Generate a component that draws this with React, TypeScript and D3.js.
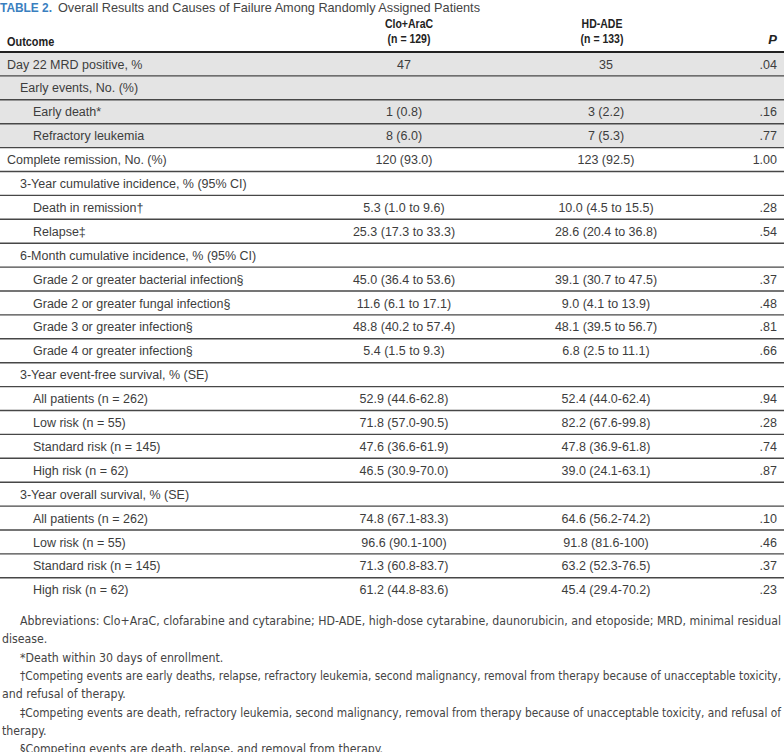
import * as d3 from "d3";
import React, { useEffect, useRef } from "react";

// table content
const titleLabel = "TABLE 2.";
const titleText = "Overall Results and Causes of Failure Among Randomly Assigned Patients";
const armNames = ["Clo+AraC", "HD-ADE"];
const armSizes = ["(n = 129)", "(n = 133)"];

const outcomes = [
  "Day 22 MRD positive, %",
  "Early events, No. (%)",
  "Early death*",
  "Refractory leukemia",
  "Complete remission, No. (%)",
  "3-Year cumulative incidence, % (95% CI)",
  "Death in remission†",
  "Relapse‡",
  "6-Month cumulative incidence, % (95% CI)",
  "Grade 2 or greater bacterial infection§",
  "Grade 2 or greater fungal infection§",
  "Grade 3 or greater infection§",
  "Grade 4 or greater infection§",
  "3-Year event-free survival, % (SE)",
  "All patients (n = 262)",
  "Low risk (n = 55)",
  "Standard risk (n = 145)",
  "High risk (n = 62)",
  "3-Year overall survival, % (SE)",
  "All patients (n = 262)",
  "Low risk (n = 55)",
  "Standard risk (n = 145)",
  "High risk (n = 62)",
];
const indentLevels = [0, 1, 2, 2, 0, 1, 2, 2, 1, 2, 2, 2, 2, 1, 2, 2, 2, 2, 1, 2, 2, 2, 2];

const cloValues = [
  "47", "", "1 (0.8)", "8 (6.0)", "120 (93.0)", "",
  "5.3 (1.0 to 9.6)", "25.3 (17.3 to 33.3)", "",
  "45.0 (36.4 to 53.6)", "11.6 (6.1 to 17.1)", "48.8 (40.2 to 57.4)", "5.4 (1.5 to 9.3)", "",
  "52.9 (44.6-62.8)", "71.8 (57.0-90.5)", "47.6 (36.6-61.9)", "46.5 (30.9-70.0)", "",
  "74.8 (67.1-83.3)", "96.6 (90.1-100)", "71.3 (60.8-83.7)", "61.2 (44.8-83.6)",
];
const hdValues = [
  "35", "", "3 (2.2)", "7 (5.3)", "123 (92.5)", "",
  "10.0 (4.5 to 15.5)", "28.6 (20.4 to 36.8)", "",
  "39.1 (30.7 to 47.5)", "9.0 (4.1 to 13.9)", "48.1 (39.5 to 56.7)", "6.8 (2.5 to 11.1)", "",
  "52.4 (44.0-62.4)", "82.2 (67.6-99.8)", "47.8 (36.9-61.8)", "39.0 (24.1-63.1)", "",
  "64.6 (56.2-74.2)", "91.8 (81.6-100)", "63.2 (52.3-76.5)", "45.4 (29.4-70.2)",
];
const pValues = [
  ".04", "", ".16", ".77", "1.00", "", ".28", ".54", "",
  ".37", ".48", ".81", ".66", "", ".94", ".28", ".74", ".87", "",
  ".10", ".46", ".37", ".23",
];
const shadedRows = [0, 1, 2, 3];

const footnotes = [
  "Abbreviations: Clo+AraC, clofarabine and cytarabine; HD-ADE, high-dose cytarabine, daunorubicin, and etoposide; MRD, minimal residual",
  "disease.",
  "*Death within 30 days of enrollment.",
  "†Competing events are early deaths, relapse, refractory leukemia, second malignancy, removal from therapy because of unacceptable toxicity,",
  "and refusal of therapy.",
  "‡Competing events are death, refractory leukemia, second malignancy, removal from therapy because of unacceptable toxicity, and refusal of",
  "therapy.",
  "§Competing events are death, relapse, and removal from therapy.",
];
const footnoteIndented = [true, false, true, true, false, true, false, true];
const footnoteJustified = [true, false, false, true, false, true, false, false];

const SANS = "'Liberation Sans', Arial, Helvetica, sans-serif";
const NARROW = "'Liberation Sans Narrow', 'DejaVu Sans Condensed', 'Liberation Sans', Arial, sans-serif";

const App: React.FC = () => {
  const ref = useRef<SVGSVGElement>(null);

  useEffect(() => {
    if (!ref.current) return;
    const svg = d3.select(ref.current);
    svg.selectAll("*").remove();

    const width = 784;
    const rowH = 23.9;
    const tableTop = 52;

    const y = d3
      .scaleBand<number>()
      .domain(d3.range(outcomes.length))
      .range([tableTop, tableTop + outcomes.length * rowH]);

    const colX = { clo: 404, hd: 606, p: 777 };
    const indent = d3.scaleLinear().domain([0, 2]).range([7, 33]);

    // title
    svg
      .append("text")
      .attr("x", 0)
      .attr("y", 12)
      .attr("font-family", SANS)
      .attr("font-size", 13)
      .attr("font-weight", "bold")
      .attr("fill", "#3a7fbf")
      .attr("textLength", 52)
      .attr("lengthAdjust", "spacingAndGlyphs")
      .text(titleLabel);
    svg
      .append("text")
      .attr("x", 58)
      .attr("y", 12)
      .attr("font-family", SANS)
      .attr("font-size", 13)
      .attr("fill", "#444")
      .attr("textLength", 422)
      .attr("lengthAdjust", "spacingAndGlyphs")
      .text(titleText);

    // header
    const header = svg
      .append("g")
      .attr("font-family", SANS)
      .attr("font-weight", "bold")
      .attr("fill", "#222")
      .attr("font-size", 12.5);
    header
      .append("text")
      .attr("transform", "translate(7,46) scale(0.84,1)")
      .attr("font-size", 13)
      .text("Outcome");
    [colX.clo + 5, colX.hd - 4].forEach((cx, i) => {
      header
        .append("text")
        .attr("transform", `translate(${cx},28) scale(0.84,1)`)
        .attr("text-anchor", "middle")
        .text(armNames[i]);
      header
        .append("text")
        .attr("transform", `translate(${cx},42.5) scale(0.84,1)`)
        .attr("text-anchor", "middle")
        .text(armSizes[i]);
    });
    header
      .append("text")
      .attr("x", colX.p)
      .attr("y", 44)
      .attr("text-anchor", "end")
      .attr("font-style", "italic")
      .attr("font-size", 13)
      .text("P");

    // shaded rows
    svg
      .selectAll("rect.shade")
      .data(shadedRows)
      .join("rect")
      .attr("class", "shade")
      .attr("x", 0)
      .attr("y", (i) => y(i)!)
      .attr("width", width)
      .attr("height", y.bandwidth())
      .attr("fill", "#e4e4e4");

    // row rules
    svg
      .selectAll("line.rule")
      .data(d3.range(1, outcomes.length))
      .join("line")
      .attr("class", "rule")
      .attr("x1", 0)
      .attr("x2", width)
      .attr("y1", (i) => y(i)!)
      .attr("y2", (i) => y(i)!)
      .attr("stroke", "#474747")
      .attr("stroke-width", 1.4);

    svg
      .append("line")
      .attr("x1", 0)
      .attr("x2", width)
      .attr("y1", tableTop)
      .attr("y2", tableTop)
      .attr("stroke", "#222")
      .attr("stroke-width", 2.2);

    // body text
    const body = svg.append("g").attr("font-family", SANS).attr("font-size", 12.5).attr("fill", "#3d3d3d");
    const baseline = (i: number) => y(i)! + 16.5;

    body
      .selectAll("text.label")
      .data(outcomes)
      .join("text")
      .attr("class", "label")
      .attr("x", (_, i) => indent(indentLevels[i]))
      .attr("y", (_, i) => baseline(i))
      .text((d) => d);

    body
      .selectAll("text.clo")
      .data(cloValues)
      .join("text")
      .attr("class", "clo")
      .attr("x", colX.clo)
      .attr("y", (_, i) => baseline(i))
      .attr("text-anchor", "middle")
      .text((d) => d);

    body
      .selectAll("text.hd")
      .data(hdValues)
      .join("text")
      .attr("class", "hd")
      .attr("x", colX.hd)
      .attr("y", (_, i) => baseline(i))
      .attr("text-anchor", "middle")
      .text((d) => d);

    body
      .selectAll("text.pv")
      .data(pValues)
      .join("text")
      .attr("class", "pv")
      .attr("x", colX.p)
      .attr("y", (_, i) => baseline(i))
      .attr("text-anchor", "end")
      .text((d) => d);

    // footnotes: condensed by a horizontal scale, long lines justified
    const noteTop = 625;
    const noteStep = 18.3;
    const noteRight = 781;
    const notes = svg
      .append("g")
      .attr("font-family", NARROW)
      .attr("font-size", 13)
      .attr("fill", "#444");
    const noteX = (i: number) => (footnoteIndented[i] ? 20 : 2);
    const noteSel = notes
      .selectAll("text")
      .data(footnotes)
      .join("text")
      .attr("x", 0)
      .attr("y", 0)
      .text((d) => d);

    const nodes = noteSel.nodes() as SVGTextElement[];
    const refLen = nodes[0].getComputedTextLength();
    const factor = Math.min(1, (noteRight - noteX(0)) / refLen);
    nodes.forEach((node, i) => {
      const L = node.getComputedTextLength();
      const target = noteRight - noteX(i);
      const f = footnoteJustified[i] ? Math.min(factor, target / L) : factor;
      const sel = d3
        .select(node)
        .attr("transform", `translate(${noteX(i)},${noteTop + i * noteStep}) scale(${f},1)`);
      if (footnoteJustified[i]) {
        sel.attr("textLength", target / f).attr("lengthAdjust", "spacing");
      }
    });
  }, []);

  return (
    <div style={{ position: "absolute", left: 0, top: 0 }}>
      <svg ref={ref} width={784} height={752} style={{ display: "block", background: "#fff" }} />
    </div>
  );
};

export default App;
